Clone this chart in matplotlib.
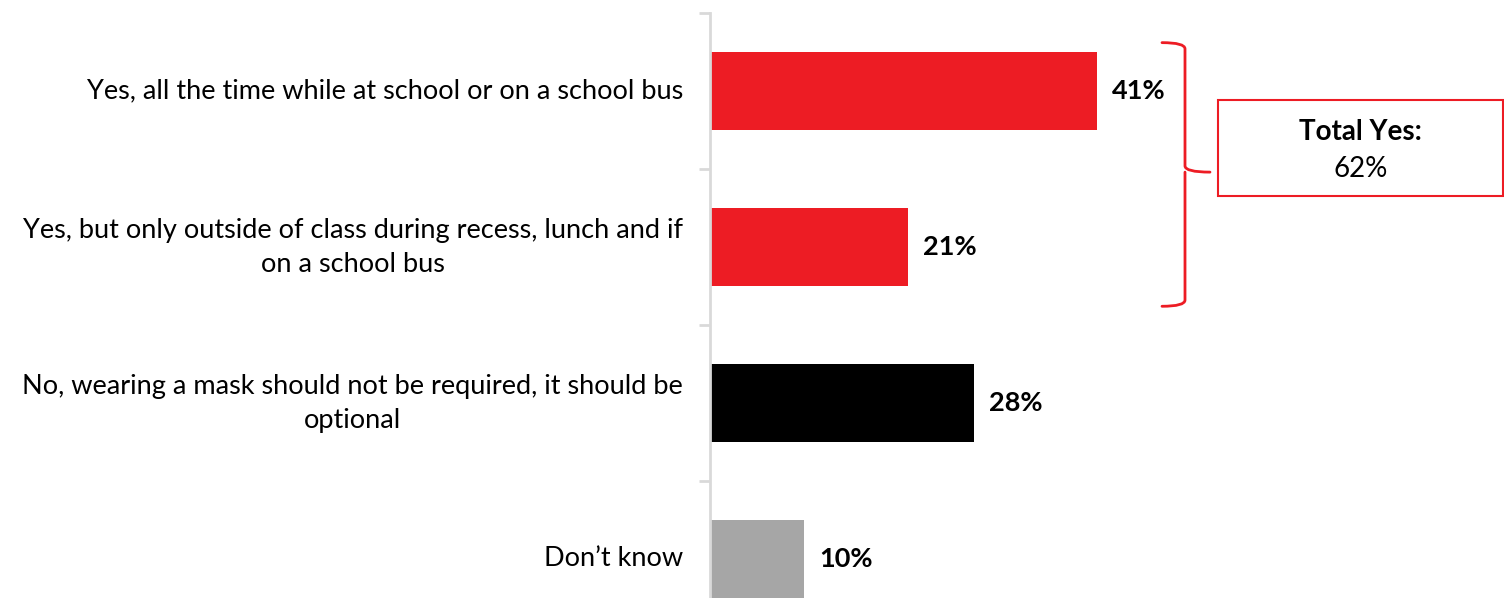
import matplotlib.pyplot as plt
from matplotlib.patches import Rectangle
from matplotlib.path import Path
from matplotlib.patches import PathPatch

# ---------- DATA ----------
categories = [
    "Yes, all the time while at school or on a school bus",
    "Yes, but only outside of class during recess, lunch and if\non a school bus",
    "No, wearing a mask should not be required, it should be\noptional",
    "Don\u2019t know",
]
values = [41, 21, 28, 10]
colors = ["#ED1C24", "#ED1C24", "#000000", "#A6A6A6"]
total_label = "Total Yes:"
total_value = "62%"

RED = "#ED1C24"
GRID = "#D9D9D9"
plt.rcParams['font.family'] = ['Lato', 'DejaVu Sans']

# ---------- FIGURE ----------
W, H = 1504, 598
fig = plt.figure(figsize=(W / 100, H / 100), dpi=100)
ax_left, ax_top, ax_bot = 710, 13, 637
ax = fig.add_axes([ax_left / W, 1 - ax_bot / H, 1 - ax_left / W, (ax_bot - ax_top) / H])

px_per_pct = (1097 - 710) / 41
ax.set_xlim(0, (W - ax_left) / px_per_pct)
ax.set_ylim(len(values) - 0.5, -0.5)

y = range(len(values))
ax.barh(y, values, height=0.5, color=colors)

for i, v in enumerate(values):
    ax.text(v + 15 / px_per_pct, i, f"{v}%", va='center', ha='left',
            fontsize=19.5, fontweight='bold', color='black')

# category labels
ax.set_yticks([])
for i, c in enumerate(categories):
    ax.text(-27 / px_per_pct, i, c, ha='right', va='center', multialignment='center',
            fontsize=19.5, color='black', linespacing=1.45)

# boundary ticks on the left
ax.set_yticks([-0.5, 0.5, 1.5, 2.5], minor=True)
ax.tick_params(axis='y', which='minor', length=8, width=2, color=GRID, left=True)
ax.tick_params(axis='y', which='major', left=False)
ax.set_xticks([])
for s in ['top', 'right', 'bottom']:
    ax.spines[s].set_visible(False)
ax.spines['left'].set_color(GRID)
ax.spines['left'].set_linewidth(2)

# ---------- BRACKET ----------
bx0 = max(values[:2]) + 65 / px_per_pct   # start of brace arms
bx1 = bx0 + 23 / px_per_pct               # vertical line
bx2 = bx1 + 25 / px_per_pct               # tip
yt, yb = -0.31, 1.38
ym = 0.52
r = 0.04
verts = [
    (bx0, yt), (bx1, yt), (bx1, yt + r),
    (bx1, ym - r), (bx1, ym), (bx2, ym),
    (bx1, ym), (bx1, ym + r),
    (bx1, yb - r), (bx1, yb), (bx0, yb),
]
codes = [Path.MOVETO, Path.CURVE3, Path.CURVE3,
         Path.LINETO, Path.CURVE3, Path.CURVE3,
         Path.MOVETO, Path.CURVE3,
         Path.LINETO, Path.CURVE3, Path.CURVE3]
ax.add_patch(PathPatch(Path(verts, codes), fill=False, edgecolor=RED, lw=2,
                       clip_on=False, capstyle='round'))

# ---------- TOTAL BOX ----------
box_x0 = bx2 + 8 / px_per_pct
box_x1 = ax.get_xlim()[1] - 1.5 / px_per_pct
box_y0, box_y1 = 0.06, 0.67
ax.add_patch(Rectangle((box_x0, box_y0), box_x1 - box_x0, box_y1 - box_y0,
                       fill=False, edgecolor=RED, lw=1.5, clip_on=False))
xc = (box_x0 + box_x1) / 2
ax.text(xc, box_y0 + 0.2, total_label, ha='center', va='center',
        fontsize=20, fontweight='bold')
ax.text(xc, box_y0 + 0.44, total_value, ha='center', va='center', fontsize=20)

fig.savefig("out.png", dpi=100)
